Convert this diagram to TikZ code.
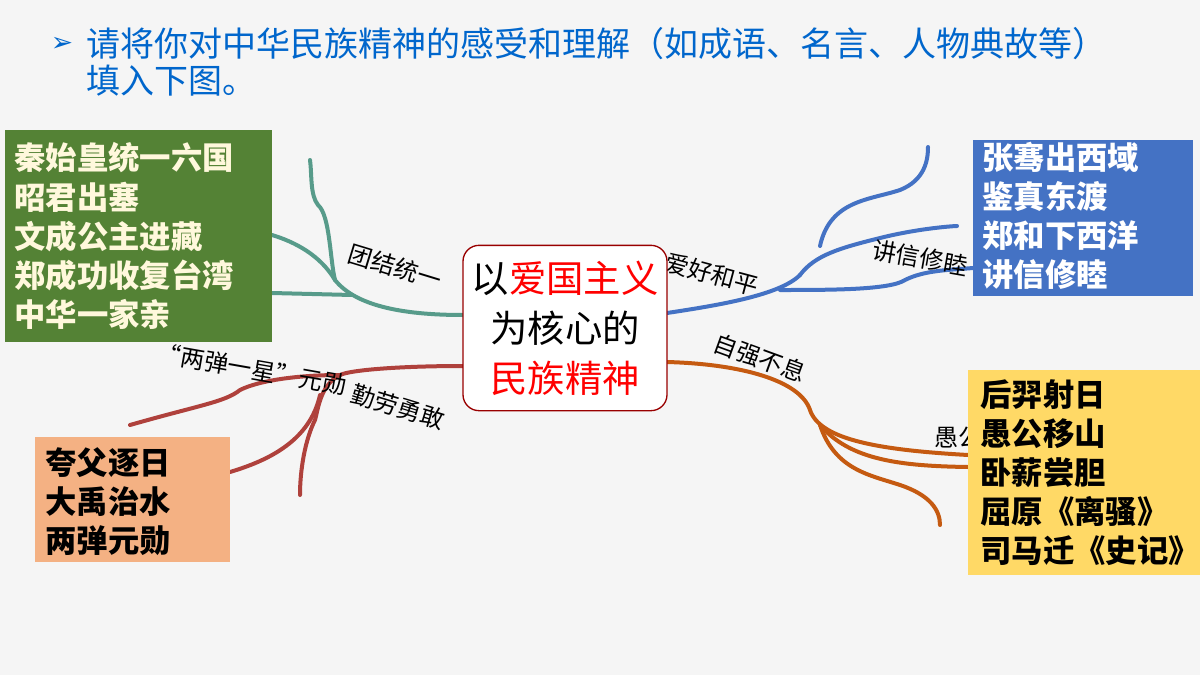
\documentclass[tikz,border=0pt]{standalone}
\usepackage{fontspec}
\setmainfont{Noto Sans CJK SC}
\newfontfamily\symfont{DejaVu Sans}
\usepackage{tikz}
\tikzset{every picture/.style={line width=0.75pt}}
\definecolor{teal}{RGB}{87,155,138}
\definecolor{peace}{RGB}{68,114,196}
\definecolor{strong}{RGB}{197,90,17}
\definecolor{brave}{RGB}{175,65,60}
\definecolor{unityfill}{RGB}{84,130,53}
\definecolor{unitytext}{RGB}{255,248,220}
\definecolor{bravefill}{RGB}{244,177,131}
\definecolor{strongfill}{RGB}{255,217,102}
\definecolor{titleblue}{RGB}{0,102,204}
\tikzset{
  branch/.style={line width=3pt, line cap=round},
  tag/.style={font=\fontsize{18}{20}\selectfont, inner sep=1pt},
  listbox/.style={anchor=west, align=left, inner sep=0pt, font=\fontsize{23.5}{29.3}\selectfont\bfseries}
}
\begin{document}
\begin{tikzpicture}[x=0.75pt,y=0.75pt,yscale=-1]
%background
\fill[gray!8] (0,0) rectangle (1200,675);

%title
\node (arr) at (62,44) {\textcolor{titleblue}{\symfont\fontsize{20}{22}\selectfont ➢}};
\node (title) [anchor=west, align=left, text=titleblue, font=\fontsize{25.5}{28}\selectfont, inner sep=0pt] at (86,62) {请将你对中华民族精神的感受和理解（如成语、名言、人物典故等）\\填入下图。};

%Branch: unity
\draw[teal, branch] (463,315) .. controls (400,315) and (355,305) .. (335,280);
\draw[teal, branch] (335,280) .. controls (330,260) and (330,215) .. (318,205) .. controls (310,195) and (312,175) .. (310,160);
\draw[teal, branch] (335,280) .. controls (320,255) and (295,242) .. (272,235);
\draw[teal, branch] (352,295) -- (272,293);
\node (unity) [tag, rotate=-17] at (395,267) {团结统一};

%Branch: peace
\draw[peace, branch] (667,313) .. controls (720,305) and (780,295) .. (800,275);
\draw[peace, branch] (800,275) .. controls (815,255) and (840,248) .. (880,238) .. controls (920,228) and (955,226) .. (957,226);
\draw[peace, branch] (820,246) .. controls (830,200) and (870,200) .. (900,190) .. controls (925,180) and (928,160) .. (928,147);
\draw[peace, branch] (780,290) .. controls (830,290) and (890,290) .. (905,280) .. controls (925,270) and (950,270) .. (973,268);
\node (peacetag) [tag, rotate=-15] at (712,274) {爱好和平};
\node (trust) [tag, rotate=-10] at (920,258) {讲信修睦};

%Branch: self-improvement
\draw[strong, branch] (667,362) .. controls (740,364) and (800,380) .. (810,410);
\draw[strong, branch] (810,410) .. controls (820,440) and (880,450) .. (968,455);
\draw[strong, branch] (820,425) .. controls (850,460) and (900,466) .. (968,467);
\draw[strong, branch] (820,425) .. controls (835,470) and (870,475) .. (900,485) .. controls (930,495) and (940,510) .. (940,525);
\node (selfimp) [tag, rotate=-20] at (760,358) {自强不息};
\node (yugong) [tag] at (958,438) {愚公};

%Branch: diligence
\draw[brave, branch] (463,366) .. controls (400,366) and (350,370) .. (340,375);
\draw[brave, branch] (340,375) .. controls (300,375) and (260,380) .. (240,390) .. controls (225,402) and (200,405) .. (130,425);
\draw[brave, branch] (340,375) .. controls (320,385) and (318,410) .. (315,420) .. controls (305,440) and (300,470) .. (300,495);
\draw[brave, branch] (320,395) .. controls (310,440) and (270,460) .. (230,472);
\node (medal) [tag, rotate=-10] at (252,369) {“两弹一星”元勋};
\node (diligent) [tag, rotate=-17] at (398,407) {勤劳勇敢};

%Center
\node (core) [draw=red!60!black, line width=1pt, fill=white, rounded corners=12pt, minimum width=153pt, minimum height=124pt, align=center, font=\fontsize{28}{37.5}\selectfont] at (565,328) {以\textcolor{red}{爱国主义}\\为核心的\\\textcolor{red}{民族精神}};

%Boxes
\fill[unityfill] (5,130) rectangle (272,342);
\node (unitylist) [listbox, text=unitytext] at (14,236) {秦始皇统一六国\\昭君出塞\\文成公主进藏\\郑成功收复台湾\\中华一家亲};
\fill[peace] (973,140) rectangle (1193,296);
\node (peacelist) [listbox, text=white] at (982,216) {张骞出西域\\鉴真东渡\\郑和下西洋\\讲信修睦};
\fill[bravefill] (35,437) rectangle (230,562);
\node (bravelist) [listbox] at (45,502) {夸父逐日\\大禹治水\\两弹元勋};
\fill[strongfill] (968,370) rectangle (1200,575);
\node (stronglist) [listbox] at (980,473) {后羿射日\\愚公移山\\卧薪尝胆\\屈原《离骚》\\司马迁《史记》};
\end{tikzpicture}
\end{document}
